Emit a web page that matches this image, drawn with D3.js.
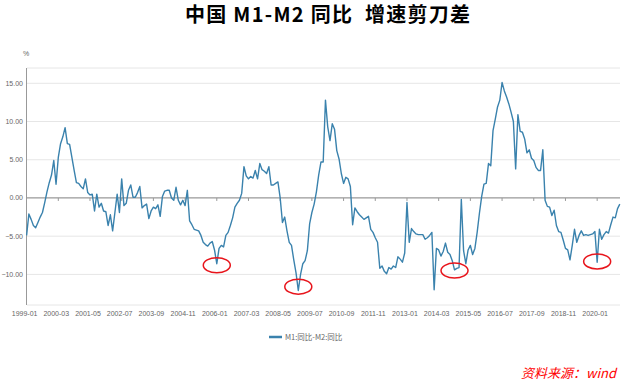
<!DOCTYPE html>
<html>
<head>
<meta charset="utf-8">
<script src="https://cdn.jsdelivr.net/npm/d3@7"></script>
<style>
    body { margin: 0; background: #fff; }
    svg { display: block; }
    .small { font-family: "Liberation Sans Narrow", "Liberation Sans", Arial, sans-serif; font-size: 7px; fill: #666; }
</style>
</head>
<body>
<svg id="chart"></svg>
<script>
'use strict';

// monthly M1 yoy minus M2 yoy, 1999-01 .. 2020-11
var startYear = 1999;
var spread = [
    -4.9, -2.1, -2.8, -3.6, -3.9, -3.2, -2.5, -1.9, -0.6, 0.8, 2.0, 3.0,
    4.9, 1.8, 5.3, 7.1, 8.0, 9.2, 7.1, 7.0, 5.3, 3.6, 2.0, 1.9,
    1.5, 1.2, 2.5, 0.7, 0.4, 0.5, -1.7, 0.5, -1.2, -0.7, -1.7, -1.8,
    -3.6, -2.2, -4.3, -1.9, 0.5, -1.9, 2.5, -1.0, -0.7, 1.0, 1.7, 0.1,
    0.1, 0.7, 1.5, -1.3, -1.0, -0.8, -2.7, -1.7, -1.2, -1.4, -0.9, -2.4,
    0.2, 0.9, 1.0, 1.0, 0.0, -0.3, 1.4, -0.3, -0.9, -0.3, -1.0, 1.0,
    -3.0, -3.5, -4.1, -4.2, -4.3, -4.9, -5.8, -6.1, -6.3, -5.9, -5.7, -6.8,
    -8.6, -6.6, -6.2, -6.4, -4.9, -4.5, -3.6, -2.6, -1.2, -0.7, -0.3, 0.6,
    4.1, 2.9, 2.5, 2.8, 2.6, 3.6, 2.5, 4.5, 3.7, 3.5, 3.2, 4.1,
    1.7, 1.7, 1.9, 2.1, 0.0, -3.2, -2.5, -4.3, -5.8, -6.2, -8.1, -9.8,
    -12.1, -10.0, -8.6, -8.2, -6.9, -3.4, -1.9, -0.8, 0.8, 3.0, 4.7, 4.7,
    12.8, 9.3, 7.5, 9.7, 9.0, 6.2, 5.1, 3.2, 1.9, 2.7, 2.5, 1.5,
    -3.5, -1.3, -1.8, -2.2, -2.5, -2.8, -2.6, -2.4, -4.1, -4.5, -5.2, -5.8,
    -9.2, -8.9, -9.6, -9.9, -9.1, -9.3, -8.9, -9.1, -7.7, -8.0, -8.4, -7.2,
    -0.6, -5.8, -4.0, -4.4, -4.7, -4.8, -4.8, -4.8, -5.4, -5.2, -4.9, -4.5,
    -12.0, -6.6, -6.8, -7.6, -7.0, -5.9, -7.1, -7.4, -8.2, -9.4, -9.2, -9.1,
    -0.2, -6.9, -8.6, -6.8, -6.2, -7.4, -6.6, -4.5, -2.0, 0.2, 1.8, 1.9,
    4.5, 4.2, 8.8, 10.3, 11.9, 12.8, 15.1, 14.0, 13.2, 12.3, 11.2, 10.0,
    3.8, 10.9, 8.7, 8.6, 7.7, 5.9, 6.3, 5.2, 4.9, 4.0, 3.6, 3.6,
    6.3, -0.3, -1.1, -1.2, -2.3, -1.6, -3.6, -4.4, -4.5, -5.5, -6.6, -6.8,
    -8.1, -6.2, -4.1, -5.8, -4.9, -4.3, -4.9, -4.8, -4.9, -4.8, -4.7, -4.4,
    -8.4, -4.1, -5.4, -4.8, -4.4, -4.6, -3.5, -2.5, -2.6, -1.4, -0.8
];
var tickLabels = ['1999-01', '2000-03', '2001-05', '2002-07', '2003-09', '2004-11', '2006-01', '2007-03',
    '2008-05', '2009-07', '2010-09', '2011-11', '2013-01', '2014-03', '2015-05', '2016-07', '2017-09',
    '2018-11', '2020-01'];
var yTicks = [-10, -5, 0, 5, 10, 15];
var circledMonths = ['2006-01', '2009-01', '2014-10', '2020-01'];
var circledValues = [-8.8, -11.6, -9.5, -8.3];

function render() {
    var w = 623;
    var h = 383;
    var lineColor = '#3a82ad';

    var months = spread.map(function (d, i) {
        var y = startYear + Math.floor(i / 12);
        var m = (i % 12) + 1;
        return y + '-' + (m < 10 ? '0' + m : m);
    });

    var svg = d3.select('#chart').attr('width', w).attr('height', h);

    var x = d3.scalePoint().domain(months).range([26.6, 619.8]);
    var y = d3.scaleLinear().domain([-14, 17]).range([305, 68]);
    var f = d3.format('.2f');

    // title
    svg.append('text')
        .attr('x', 327.5).attr('y', 22)
        .attr('text-anchor', 'middle')
        .attr('textLength', 285).attr('lengthAdjust', 'spacing')
        .style('white-space', 'pre')
        .style('font-family', '"Noto Sans CJK SC", sans-serif')
        .style('font-size', '20px').style('font-weight', 'bold').style('fill', '#000')
        .text('中国 M1-M2 同比  增速剪刀差');

    // grid
    var grid = svg.append('g');
    grid.selectAll('line').data(yTicks.filter(function (d) { return d !== 0; }).concat([17, -14]))
        .enter().append('line')
        .attr('x1', 27).attr('x2', 620)
        .attr('y1', function (d) { return y(d); }).attr('y2', function (d) { return y(d); })
        .attr('stroke', '#e6e6e6').attr('stroke-width', 1);

    // y axis
    svg.append('line')
        .attr('x1', 26.5).attr('x2', 26.5).attr('y1', y(17)).attr('y2', y(-14))
        .attr('stroke', '#999').attr('stroke-width', 1);

    svg.selectAll('.ylabel').data(yTicks).enter().append('text')
        .attr('class', 'ylabel small')
        .attr('x', 23).attr('y', function (d) { return y(d); })
        .attr('dy', '.35em').attr('text-anchor', 'end')
        .text(function (d) { return f(d); });

    svg.append('text').attr('class', 'small').attr('x', 26).attr('y', 56)
        .attr('text-anchor', 'middle').text('%');

    // zero line + ticks
    svg.append('line')
        .attr('x1', 27).attr('x2', 620).attr('y1', y(0)).attr('y2', y(0))
        .attr('stroke', '#999').attr('stroke-width', 1.2);

    svg.selectAll('.xtick').data(tickLabels.slice(1)).enter().append('line')
        .attr('class', 'xtick')
        .attr('x1', function (d) { return x(d); }).attr('x2', function (d) { return x(d); })
        .attr('y1', y(0)).attr('y2', y(0) + 3)
        .attr('stroke', '#999');

    svg.selectAll('.xlabel').data(tickLabels).enter().append('text')
        .attr('class', 'xlabel small')
        .attr('x', function (d) { return x(d) - 2; }).attr('y', 316)
        .attr('text-anchor', 'middle')
        .text(function (d) { return d; });

    // series
    var line = d3.line()
        .x(function (d, i) { return x(months[i]); })
        .y(function (d) { return y(d); });

    svg.append('path').datum(spread)
        .attr('d', line)
        .attr('fill', 'none')
        .attr('stroke', lineColor).attr('stroke-width', 1.4)
        .attr('stroke-linejoin', 'round');

    // red circles on the troughs
    svg.selectAll('.mark').data(circledMonths).enter().append('ellipse')
        .attr('class', 'mark')
        .attr('cx', function (d) { return x(d); })
        .attr('cy', function (d, i) { return y(circledValues[i]); })
        .attr('rx', 13.5).attr('ry', 7.5)
        .attr('fill', 'none').attr('stroke', '#e8141b').attr('stroke-width', 1.5);

    // legend
    svg.append('line').attr('x1', 269).attr('x2', 282).attr('y1', 337).attr('y2', 337)
        .attr('stroke', lineColor).attr('stroke-width', 2.5);
    svg.append('text').attr('x', 285).attr('y', 340)
        .style('font-family', '"Noto Sans CJK SC", sans-serif').style('font-size', '7.5px').style('fill', '#666')
        .text('M1:同比-M2:同比');

    // source
    svg.append('text').attr('x', 521).attr('y', 378)
        .style('font-family', '"Noto Sans CJK SC", sans-serif').style('font-size', '13px')
        .style('font-style', 'italic').style('fill', '#ff0000')
        .text('资料来源：wind');
}

render();
</script>
</body>
</html>
